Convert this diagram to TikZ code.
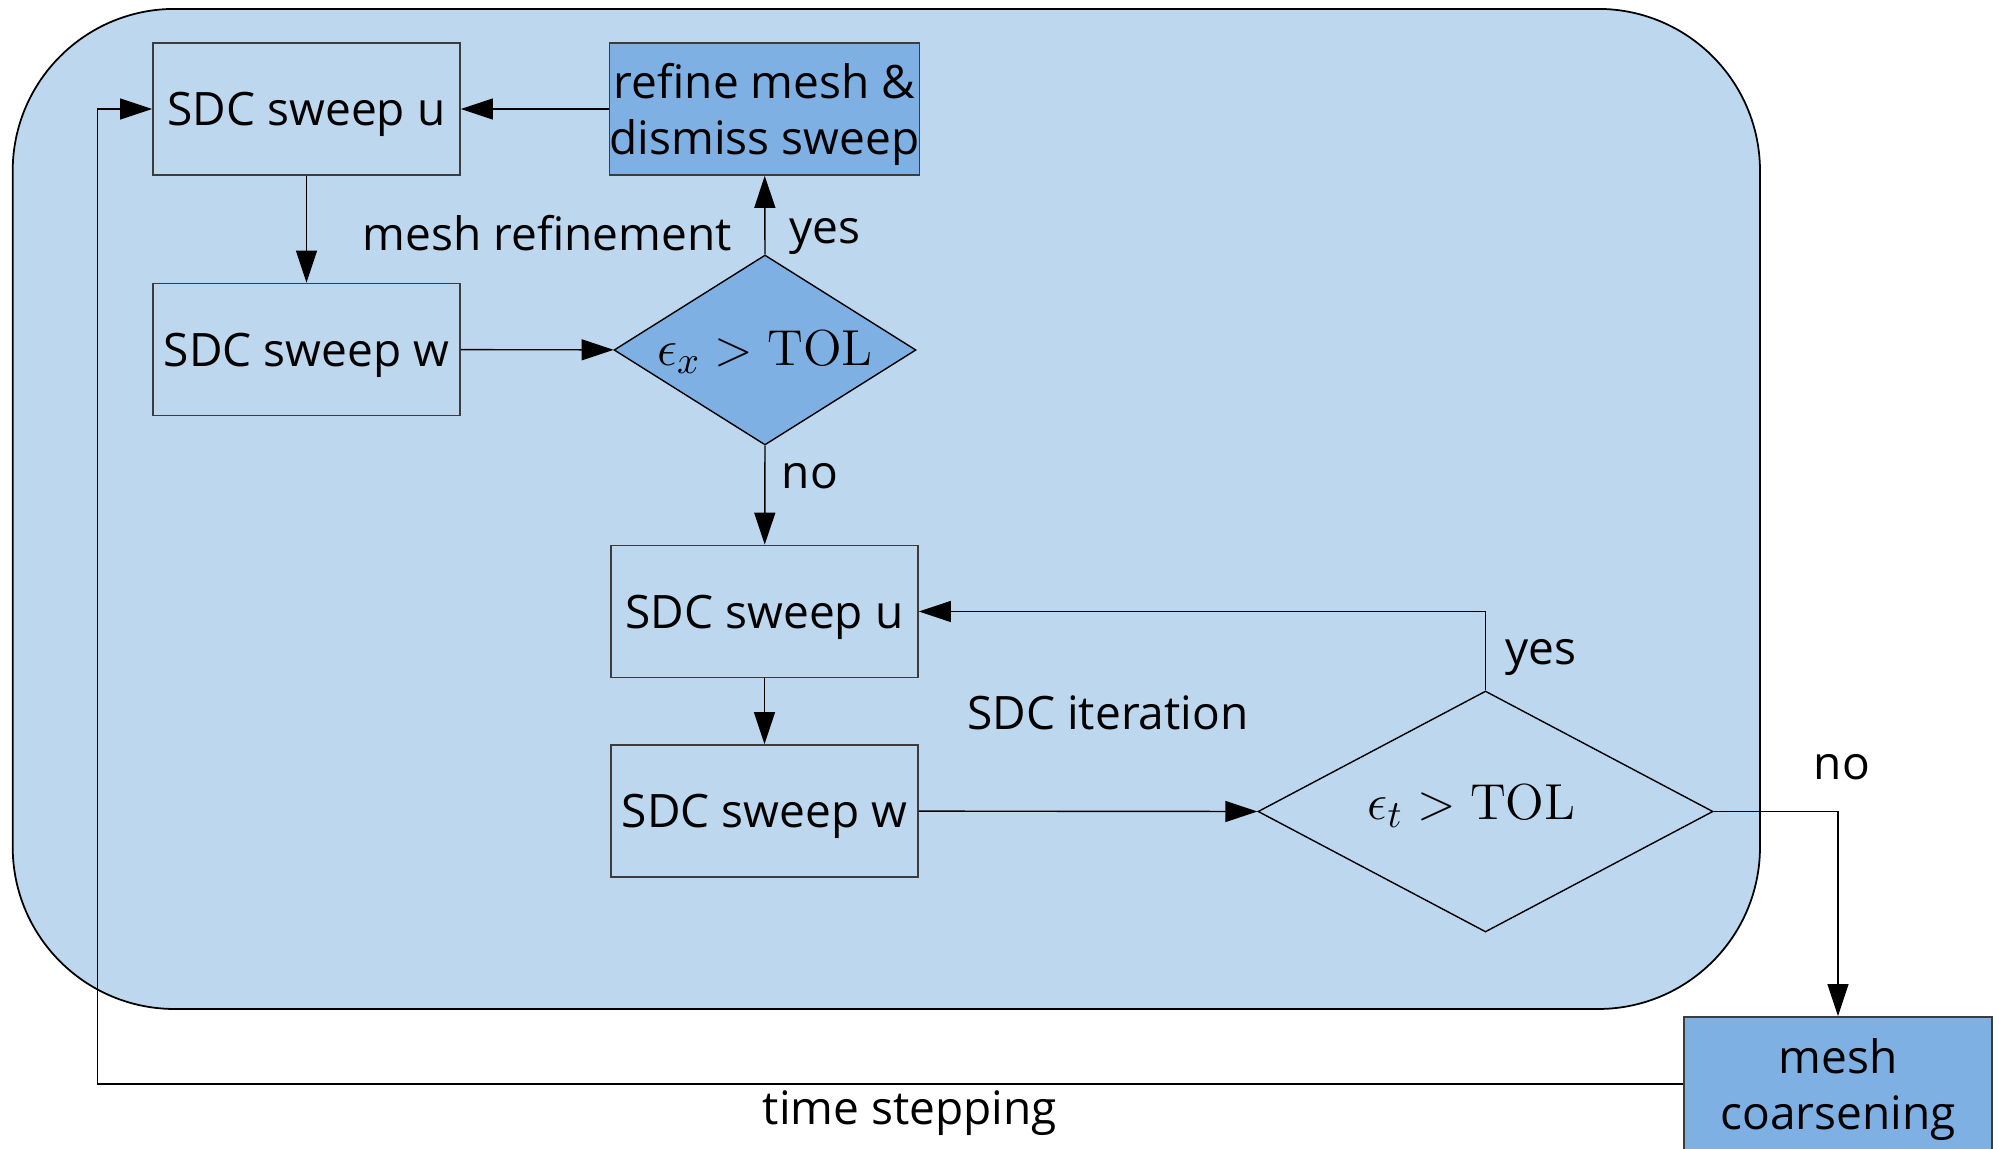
\documentclass[tikz,border=0pt]{standalone}
\usepackage[no-math]{fontspec}
\setmainfont{Open Sans}
\usetikzlibrary{arrows.meta,
                shapes.geometric}

\definecolor{loopblue}{RGB}{189,215,238}
\definecolor{stepblue}{RGB}{127,176,227}
\definecolor{boxline}{RGB}{60,60,60}

\begin{document}
\begin{tikzpicture}[font=\fontsize{13.1}{16}\selectfont,
        >={Triangle[length=3.2mm, width=2.1mm]},
        sweepbox/.style={draw=boxline, line width=0.5pt, inner sep=0pt, text depth=0pt,
                         minimum width=3.07cm, minimum height=1.32cm, align=center},
        testbox/.style={diamond, draw, line width=0.4pt, inner sep=0pt},
        testtext/.style={font=\fontsize{15.3}{18}\selectfont},
        flow/.style={->, line width=0.4pt}]
        \useasboundingbox (0, 0) rectangle (19.99, -11.49);

        % outer loop over the time step
        \draw [fill=loopblue, line width=0.5pt, rounded corners=1.62cm] (0.127, -0.089) rectangle (17.60, -10.09);

        \node [sweepbox] (u1) at (3.065, -1.09) {SDC sweep u};
        \node [sweepbox, fill=stepblue] (refine) at (7.645, -1.09) {refine mesh \&\\dismiss sweep};
        \node [sweepbox] (w1) at (3.065, -3.495) {SDC sweep w};
        \node [testbox, fill=stepblue, minimum width=3.02cm, minimum height=1.90cm,
               label={[testtext, yshift=-0.02cm]center:{$\epsilon_x > \mathrm{TOL}$}}] (dx) at (7.65, -3.50) {};

        \node [sweepbox] (u2) at (7.645, -6.115) {SDC sweep u};
        \node [sweepbox] (w2) at (7.645, -8.11) {SDC sweep w};
        \node [testbox, minimum width=4.55cm, minimum height=2.41cm,
               label={[testtext, xshift=-0.14cm, yshift=0.05cm]center:{$\epsilon_t > \mathrm{TOL}$}}] (dt) at (14.855, -8.115) {};

        \node [sweepbox, fill=stepblue, minimum width=3.08cm, minimum height=1.34cm] (coarse) at (18.38, -10.84) {mesh\\coarsening};
        \coordinate (back) at (0.973, -10.84);

        \node (refinetext) at (5.47, -2.33) {mesh refinement};
        \node (yesx) at (8.25, -2.36) {yes};
        \node (nox) at (8.10, -4.76) {no};
        \node (yest) at (15.41, -6.57) {yes};
        \node (itertext) at (11.08, -7.13) {SDC iteration};
        \node (not) at (18.42, -7.67) {no};
        \node (steptext) at (9.10, -11.13) {time stepping};

        \draw [flow] (refine) -- (u1);
        \draw [flow] (u1) -- (w1);
        \draw [flow] (w1) -- (dx);
        \draw [flow] (dx.north) -- (refine);
        \draw [flow] (dx.south) -- (u2);
        \draw [flow] (u2) -- (w2);
        \draw [flow] (w2) -- (dt.west);
        \draw [flow] (dt.north) |- (u2.east);
        \draw [flow] (dt.east) -| (coarse.north);
        \draw [flow] (coarse.west) -- (back) |- (u1.west);
    \end{tikzpicture}
\end{document}
